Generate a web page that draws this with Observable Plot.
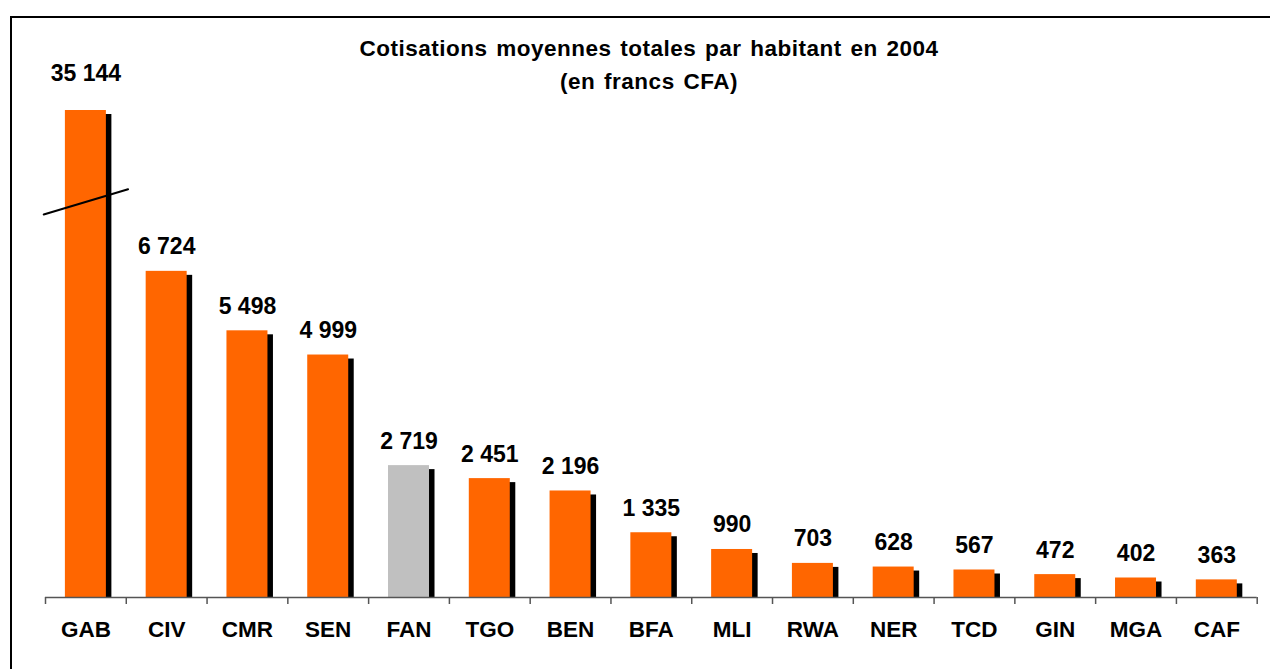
<!DOCTYPE html>
<html>
<head>
<meta charset="utf-8">
<script src="https://cdn.jsdelivr.net/npm/d3@7"></script>
<script src="https://cdn.jsdelivr.net/npm/@observablehq/plot@0.6"></script>
<style>
  html, body { margin: 0; padding: 0; background: #fff; }
  #wrap { position: relative; width: 1270px; height: 669px; overflow: hidden; font-family: "Liberation Sans", Arial, sans-serif; }
  #frame { position: absolute; left: 10px; top: 16px; width: 1400px; height: 800px; border-left: 2px solid #000; border-top: 2px solid #000; }
  #title { position: absolute; left: 0; top: 32px; width: 1298px; text-align: center; font-weight: bold; font-size: 22.5px; letter-spacing: 0.5px; word-spacing: 2px; line-height: 33px; color: #000; }
  #chart { position: absolute; left: 0; top: 0; }
</style>
</head>
<body>
<div id="wrap">
  <div id="frame"></div>
  <div id="chart"></div>
  <div id="title">Cotisations moyennes totales par habitant en 2004<br>(en francs CFA)</div>
</div>
<script>
// Data
const countries = ["GAB","CIV","CMR","SEN","FAN","TGO","BEN","BFA","MLI","RWA","NER","TCD","GIN","MGA","CAF"];
const values    = [35144, 6724, 5498, 4999, 2719, 2451, 2196, 1335, 990, 703, 628, 567, 472, 402, 363];
const highlight = ["FAN"]; // drawn in grey
const axisCap = 10040;     // broken axis: bars above this are truncated
const breakAt = 8156;      // value where the axis break mark sits

const fmt = d3.formatLocale({thousands: " ", grouping: [3], decimal: ","}).format(",");
const data = countries.map((c, i) => ({
  country: c,
  value: values[i],
  shown: Math.min(values[i], axisCap),
  label: fmt(values[i]),
  color: highlight.includes(c) ? "#C0C0C0" : "#FF6600"
}));

const W = 1270, H = 669;
const mL = 45, mR = 13.3, mT = 110, mB = 72;
const n = countries.length;
const step = (W - mL - mR) / n;
const pad = 0.4925;

const font = "'Liberation Sans', Arial, sans-serif";
const lineShape = { draw(ctx, l) { ctx.moveTo(0, 0); ctx.lineTo(0, -l); } };

const chart = Plot.plot({
  width: W, height: H,
  marginLeft: mL, marginRight: mR, marginTop: mT, marginBottom: mB,
  style: { fontFamily: font, background: "transparent", overflow: "visible" },
  x: { domain: countries, paddingInner: pad, paddingOuter: pad / 2, align: 0.5, round: false },
  y: { domain: [0, axisCap], axis: null },
  marks: [
    // shadows
    Plot.barY(data, { x: "country", y: "shown", fill: "#000", dx: 5.5, insetTop: 4 }),
    // bars
    Plot.barY(data, { x: "country", y: "shown", fill: "color" }),
    // baseline
    Plot.ruleY([0], { stroke: "#555", strokeWidth: 1.5 }),
    // category boundary ticks
    Plot.axisX({ tickSize: 7, text: null, dx: -step / 2, stroke: "#555", strokeWidth: 1.5, label: null }),
    Plot.axisX({ ticks: [countries[n - 1]], tickSize: 7, text: null, dx: step / 2, stroke: "#555", strokeWidth: 1.5, label: null }),
    // axis break
    Plot.vector([{country: "GAB", v: breakAt}], { x: "country", y: "v", length: 88, rotate: 73.4, anchor: "middle", shape: lineShape, stroke: "#000", strokeWidth: 2 }),
    // value labels
    Plot.text(data.filter(d => d.value <= axisCap), { x: "country", y: "shown", text: "label", lineAnchor: "bottom", dy: -17, fontSize: 23, fontWeight: "bold", fill: "#000" }),
    Plot.text(data.filter(d => d.value > axisCap), { x: "country", y: "shown", text: "label", lineAnchor: "bottom", dy: -30, fontSize: 23, fontWeight: "bold", fill: "#000" }),
    // category labels
    Plot.axisX({ tickSize: 0, tickPadding: 24, fontSize: 22.5, fontWeight: "bold", label: null, color: "#000" })
  ]
});
document.getElementById("chart").appendChild(chart);
</script>
</body>
</html>
